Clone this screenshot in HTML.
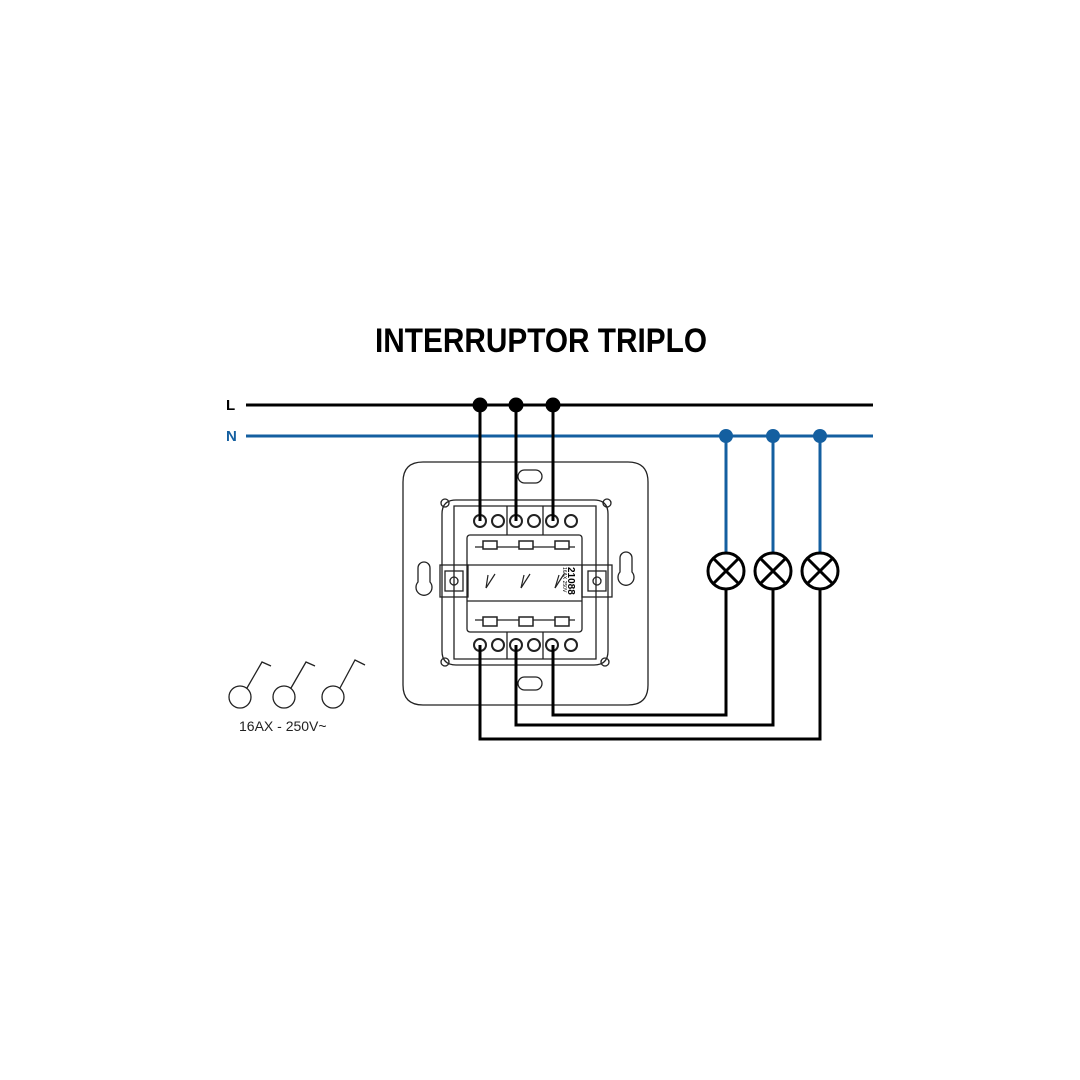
<!DOCTYPE html>
<html><head><meta charset="utf-8"><style>html,body{margin:0;padding:0;background:#fff}svg{display:block}</style></head>
<body>
<svg width="1080" height="1080" viewBox="0 0 1080 1080" xmlns="http://www.w3.org/2000/svg">
<rect width="1080" height="1080" fill="#fff"/>
<text x="375" y="352" font-family="Liberation Sans, sans-serif" font-weight="bold" font-size="34" textLength="332" lengthAdjust="spacingAndGlyphs" fill="#000">INTERRUPTOR TRIPLO</text>
<text x="226" y="410" font-family="Liberation Sans, sans-serif" font-weight="bold" font-size="15" fill="#000">L</text>
<text x="226" y="441" font-family="Liberation Sans, sans-serif" font-weight="bold" font-size="15" fill="#145fa0">N</text>
<line x1="246" y1="405" x2="873" y2="405" stroke="#000" stroke-width="3"/>
<line x1="246" y1="436" x2="873" y2="436" stroke="#145fa0" stroke-width="3"/>

<!-- plate -->
<g fill="none" stroke="#222" stroke-width="1.3">
<path d="M423 462 H628 Q648 462 648 482 V685 Q648 705 628 705 H423 Q403 705 403 685 V482 Q403 462 423 462 Z"/>
<rect x="518" y="470" width="24" height="13" rx="6.5"/>
<rect x="518" y="677" width="24" height="13" rx="6.5"/>
<circle cx="445" cy="503" r="4"/><circle cx="607" cy="503" r="4"/>
<circle cx="445" cy="662" r="4"/><circle cx="605" cy="662" r="4"/>
<path d="M418 568 a6 6 0 0 1 12 0 v14 a8 8 0 1 1 -12 0 z"/>
<path d="M620 558 a6 6 0 0 1 12 0 v14 a8 8 0 1 1 -12 0 z"/>
<path d="M456 500 H594 Q608 500 608 514 V651 Q608 665 594 665 H456 Q442 665 442 651 V514 Q442 500 456 500 Z"/>
<path d="M454 506 H596 V659 H454 Z"/>
<rect x="467" y="535" width="115" height="97" rx="3"/>
<rect x="440" y="565" width="28" height="32"/>
<rect x="582" y="565" width="30" height="32"/>
<rect x="445" y="571" width="18" height="20"/>
<rect x="588" y="571" width="18" height="20"/>
<circle cx="454" cy="581" r="4"/><circle cx="597" cy="581" r="4"/>
<line x1="467" y1="565" x2="582" y2="565"/><line x1="467" y1="601" x2="582" y2="601"/>
<line x1="475" y1="547" x2="575" y2="547"/><line x1="475" y1="620" x2="575" y2="620"/>
<line x1="507" y1="506" x2="507" y2="535"/><line x1="543" y1="506" x2="543" y2="535"/>
<line x1="507" y1="632" x2="507" y2="659"/><line x1="543" y1="632" x2="543" y2="659"/>
</g>
<g fill="#fff" stroke="#222" stroke-width="1.5">
<rect x="483" y="541" width="14" height="8"/><rect x="519" y="541" width="14" height="8"/><rect x="555" y="541" width="14" height="8"/>
<rect x="483" y="617" width="14" height="9"/><rect x="519" y="617" width="14" height="9"/><rect x="555" y="617" width="14" height="9"/>
</g>
<g stroke="#222" stroke-width="1.2">
<line x1="488" y1="575" x2="486" y2="588"/><line x1="486" y1="588" x2="495" y2="574"/>
<line x1="524" y1="575" x2="521" y2="588"/><line x1="521" y1="588" x2="530" y2="574"/>
<line x1="559" y1="575" x2="555" y2="588"/><line x1="555" y1="588" x2="564" y2="574"/>
</g>
<text x="568" y="567" transform="rotate(90 568 567)" font-family="Liberation Sans, sans-serif" font-weight="bold" font-size="10" fill="#000">21088</text>
<text x="563" y="567" transform="rotate(90 563 567)" font-family="Liberation Sans, sans-serif" font-size="5" fill="#000">16AX 250V</text>
<g fill="#fff" stroke="#222" stroke-width="2">
<circle cx="480" cy="521" r="6"/><circle cx="498" cy="521" r="6"/><circle cx="516" cy="521" r="6"/><circle cx="534" cy="521" r="6"/><circle cx="552" cy="521" r="6"/><circle cx="571" cy="521" r="6"/>
<circle cx="480" cy="645" r="6"/><circle cx="498" cy="645" r="6"/><circle cx="516" cy="645" r="6"/><circle cx="534" cy="645" r="6"/><circle cx="552" cy="645" r="6"/><circle cx="571" cy="645" r="6"/>
</g>

<!-- L wires -->
<g stroke="#000" stroke-width="3" fill="none">
<line x1="480" y1="405" x2="480" y2="521"/><line x1="516" y1="405" x2="516" y2="521"/><line x1="553" y1="405" x2="553" y2="521"/>
<polyline points="480,645 480,739 820,739 820,589"/>
<polyline points="516,645 516,725 773,725 773,589"/>
<polyline points="553,645 553,715 726,715 726,589"/>
</g>
<g fill="#000"><circle cx="480" cy="405" r="7.5"/><circle cx="516" cy="405" r="7.5"/><circle cx="553" cy="405" r="7.5"/></g>
<!-- N wires -->
<g stroke="#145fa0" stroke-width="3"><line x1="726" y1="436" x2="726" y2="553"/><line x1="773" y1="436" x2="773" y2="553"/><line x1="820" y1="436" x2="820" y2="553"/></g>
<g fill="#145fa0"><circle cx="726" cy="436" r="7"/><circle cx="773" cy="436" r="7"/><circle cx="820" cy="436" r="7"/></g>
<!-- lamps -->
<g stroke="#000" stroke-width="3" fill="#fff">
<circle cx="726" cy="571" r="18"/><circle cx="773" cy="571" r="18"/><circle cx="820" cy="571" r="18"/>
<path d="M713 558 L739 584 M739 558 L713 584 M760 558 L786 584 M786 558 L760 584 M807 558 L833 584 M833 558 L807 584" fill="none"/>
</g>
<!-- switch symbols -->
<g stroke="#222" stroke-width="1.3" fill="none">
<circle cx="240" cy="697" r="11"/><polyline points="247,688 262,662 271,666"/>
<circle cx="284" cy="697" r="11"/><polyline points="291,688 306,662 315,666"/>
<circle cx="333" cy="697" r="11"/><polyline points="340,688 355,660 365,665"/>
</g>
<text x="239" y="731" font-family="Liberation Sans, sans-serif" font-size="14" fill="#222">16AX - 250V~</text>
</svg>
</body></html>
